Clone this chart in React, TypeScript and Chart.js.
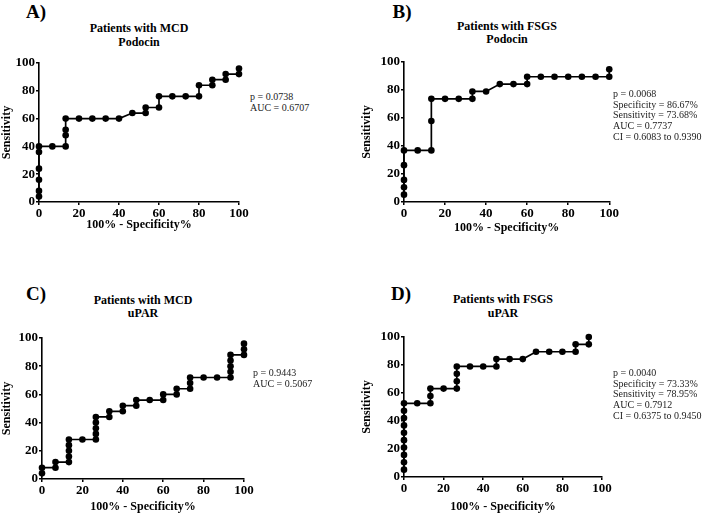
import React, { useEffect, useRef } from "react";
import { Chart, registerables } from "chart.js";

Chart.register(...registerables);

const FONT = "'Liberation Serif', 'Times New Roman', Times, serif";

const xTickValues = [0, 20, 40, 60, 80, 100];
const yTickValues = [0, 20, 40, 60, 80, 100];
const xAxisTitle = "100% - Specificity%";
const yAxisTitle = "Sensitivity";

// A) Patients with MCD - Podocin
const mcdPodocinX = [0, 0, 0, 0, 0, 0, 6.67, 13.33, 13.33, 13.33, 13.33, 20, 26.67, 33.33, 40, 46.67, 53.33, 53.33, 60, 60, 66.67, 73.33, 80, 80, 86.67, 86.67, 93.33, 93.33, 100, 100];
const mcdPodocinY = [4, 8, 16, 24, 36, 40, 40, 40, 48, 52, 60, 60, 60, 60, 60, 64, 64, 68, 68, 76, 76, 76, 76, 84, 84, 88, 88, 92, 92, 96];
const mcdPodocinStats = ["p = 0.0738", "AUC = 0.6707"];

// B) Patients with FSGS - Podocin
const fsgsPodocinX = [0, 0, 0, 0, 0, 6.67, 13.33, 13.33, 13.33, 20, 26.67, 33.33, 33.33, 40, 46.67, 53.33, 60, 60, 66.67, 73.33, 80, 86.67, 93.33, 100, 100];
const fsgsPodocinY = [5.26, 10.53, 15.79, 26.32, 36.84, 36.84, 36.84, 57.89, 73.68, 73.68, 73.68, 73.68, 78.95, 78.95, 84.21, 84.21, 84.21, 89.47, 89.47, 89.47, 89.47, 89.47, 89.47, 89.47, 94.74];
const fsgsPodocinStats = ["p = 0.0068", "Specificity = 86.67%", "Sensitivity = 73.68%", "AUC = 0.7737", "CI = 0.6083 to 0.9390"];

// C) Patients with MCD - uPAR
const mcdUparX = [0, 0, 6.67, 6.67, 13.33, 13.33, 13.33, 13.33, 13.33, 20, 26.67, 26.67, 26.67, 26.67, 26.67, 33.33, 33.33, 40, 40, 46.67, 46.67, 53.33, 60, 60, 66.67, 66.67, 73.33, 73.33, 73.33, 80, 86.67, 93.33, 93.33, 93.33, 93.33, 93.33, 100, 100, 100];
const mcdUparY = [4, 8, 8, 12, 12, 16, 20, 24, 28, 28, 28, 32, 36, 40, 44, 44, 48, 48, 52, 52, 56, 56, 56, 60, 60, 64, 64, 68, 72, 72, 72, 72, 76, 80, 84, 88, 88, 92, 96];
const mcdUparStats = ["p = 0.9443", "AUC = 0.5067"];

// D) Patients with FSGS - uPAR
const fsgsUparX = [0, 0, 0, 0, 0, 0, 0, 0, 0, 0, 6.67, 13.33, 13.33, 13.33, 20, 26.67, 26.67, 26.67, 26.67, 33.33, 40, 46.67, 46.67, 53.33, 60, 66.67, 73.33, 80, 86.67, 86.67, 93.33, 93.33];
const fsgsUparY = [5.26, 10.53, 15.79, 21.05, 26.32, 31.58, 36.84, 42.11, 47.37, 52.63, 52.63, 52.63, 57.89, 63.16, 63.16, 63.16, 68.42, 73.68, 78.95, 78.95, 78.95, 78.95, 84.21, 84.21, 84.21, 89.47, 89.47, 89.47, 89.47, 94.74, 94.74, 100];
const fsgsUparStats = ["p = 0.0040", "Specificity = 73.33%", "Sensitivity = 78.95%", "AUC = 0.7912", "CI = 0.6375 to 0.9450"];

type RocProps = {
  left: number;
  top: number;
  width: number;
  height: number;
  yAxisWidth: number;
  plotTop: number;
  plotBottom: number;
  plotRight: number;
  xs: number[];
  ys: number[];
};

function RocChart(p: RocProps) {
  const ref = useRef<HTMLCanvasElement | null>(null);
  useEffect(() => {
    if (!ref.current) return;
    const points = p.xs.map((x, i) => ({ x, y: p.ys[i] }));
    const axisCommon = (title: string, values: number[]) => ({
      type: "linear" as const,
      min: 0,
      max: 100,
      afterBuildTicks: (s: any) => {
        s.ticks = values.map((v) => ({ value: v }));
      },
      grid: { drawOnChartArea: false, drawTicks: true, tickLength: 3, color: "#000", lineWidth: 1.5 },
      border: { display: true, color: "#000", width: 1.6 },
      ticks: {
        color: "#000",
        font: { family: FONT, size: 13, weight: "bold" as const },
        padding: 1,
        maxRotation: 0,
        autoSkip: false,
      },
      title: {
        display: true,
        text: title,
        color: "#000",
        font: { family: FONT, size: 12, weight: "bold" as const },
        padding: 0,
      },
    });
    const chart = new Chart(ref.current, {
      type: "line",
      data: {
        datasets: [
          {
            data: points,
            borderColor: "#000",
            backgroundColor: "#000",
            borderWidth: 1.7,
            pointRadius: 3.3,
            pointBackgroundColor: "#000",
            pointBorderColor: "#000",
            pointBorderWidth: 0,
            tension: 0,
            fill: false,
            clip: false as any,
          },
        ],
      },
      options: {
        responsive: false,
        animation: false,
        devicePixelRatio: 1,
        layout: {
          padding: {
            top: p.plotTop - p.top,
            right: p.left + p.width - p.plotRight,
            left: 0,
            bottom: 0,
          },
        },
        plugins: {
          legend: { display: false },
          tooltip: { enabled: false },
          title: { display: false },
        },
        scales: {
          x: {
            ...axisCommon(xAxisTitle, xTickValues),
            afterFit: (s: any) => {
              s.height = p.top + p.height - p.plotBottom;
            },
          },
          y: {
            ...axisCommon(yAxisTitle, yTickValues),
            afterFit: (s: any) => {
              s.width = p.yAxisWidth;
            },
          },
        },
      } as any,
    });
    return () => chart.destroy();
  }, []);
  return (
    <canvas
      ref={ref}
      width={p.width}
      height={p.height}
      style={{ position: "absolute", left: p.left, top: p.top, width: p.width, height: p.height }}
    />
  );
}

function CenterText({ x, y, text, size, bold }: { x: number; y: number; text: string; size: number; bold?: boolean }) {
  return (
    <div
      style={{
        position: "absolute",
        left: x,
        top: y,
        transform: "translate(-50%, -50%)",
        whiteSpace: "nowrap",
        fontFamily: FONT,
        fontSize: size,
        fontWeight: bold ? "bold" : "normal",
        lineHeight: 1,
        color: "#000",
      }}
    >
      {text}
    </div>
  );
}

function Stats({ x, y, lines }: { x: number; y: number; lines: string[] }) {
  return (
    <div
      style={{
        position: "absolute",
        left: x,
        top: y,
        whiteSpace: "nowrap",
        fontFamily: FONT,
        fontSize: 10,
        lineHeight: "10.7px",
        color: "#222",
      }}
    >
      {lines.map((l, i) => (
        <div key={i}>{l}</div>
      ))}
    </div>
  );
}

export default function App() {
  return (
    <div style={{ position: "absolute", left: 0, top: 0, width: 713, height: 515, background: "#fff", overflow: "hidden" }}>
      {/* A */}
      <CenterText x={36} y={11} text="A)" size={19} bold />
      <CenterText x={139} y={28} text="Patients with MCD" size={12} bold />
      <CenterText x={139} y={42} text="Podocin" size={12} bold />
      <RocChart left={0} top={0} width={250} height={232} yAxisWidth={39} plotTop={63} plotBottom={202} plotRight={239} xs={mcdPodocinX} ys={mcdPodocinY} />
      <Stats x={250} y={92} lines={mcdPodocinStats} />

      {/* B */}
      <CenterText x={402} y={11} text="B)" size={19} bold />
      <CenterText x={507} y={26} text="Patients with FSGS" size={12} bold />
      <CenterText x={507} y={39} text="Podocin" size={12} bold />
      <RocChart left={360} top={0} width={260} height={235} yAxisWidth={44} plotTop={62} plotBottom={202} plotRight={610} xs={fsgsPodocinX} ys={fsgsPodocinY} />
      <Stats x={613} y={89} lines={fsgsPodocinStats} />

      {/* C */}
      <CenterText x={36} y={293} text="C)" size={19} bold />
      <CenterText x={143} y={300} text="Patients with MCD" size={12} bold />
      <CenterText x={143} y={313} text="uPAR" size={12} bold />
      <RocChart left={0} top={250} width={255} height={264} yAxisWidth={42} plotTop={338} plotBottom={479} plotRight={244} xs={mcdUparX} ys={mcdUparY} />
      <Stats x={253} y={368} lines={mcdUparStats} />

      {/* D */}
      <CenterText x={401} y={293} text="D)" size={19} bold />
      <CenterText x={503} y={299} text="Patients with FSGS" size={12} bold />
      <CenterText x={503} y={313} text="uPAR" size={12} bold />
      <RocChart left={360} top={250} width={260} height={264} yAxisWidth={44} plotTop={337} plotBottom={477} plotRight={602} xs={fsgsUparX} ys={fsgsUparY} />
      <Stats x={613} y={368} lines={fsgsUparStats} />
    </div>
  );
}
